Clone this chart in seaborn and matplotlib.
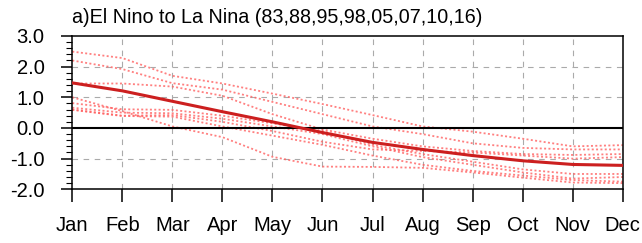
import matplotlib
matplotlib.use("Agg")
import matplotlib.pyplot as plt
from matplotlib.ticker import MultipleLocator
import seaborn as sns
import pandas as pd

# month labels and per-event SST anomaly traces
months = ['Jan', 'Feb', 'Mar', 'Apr', 'May', 'Jun', 'Jul', 'Aug', 'Sep', 'Oct', 'Nov', 'Dec']
events = ['83', '88', '95', '98', '05', '07', '10', '16']

ev_a = [2.49, 2.28, 1.70, 1.45, 1.12, 0.78, 0.42, 0.05, -0.12, -0.35, -0.60, -0.56]
ev_b = [2.20, 1.92, 1.46, 1.25, 0.85, 0.45, 0.05, -0.20, -0.50, -0.65, -0.70, -0.70]
ev_c = [1.45, 1.45, 1.35, 1.05, 0.45, -0.05, -0.35, -0.60, -0.75, -0.85, -0.88, -0.85]
ev_d = [1.00, 0.55, 0.05, -0.30, -0.94, -1.26, -1.27, -1.30, -1.45, -1.62, -1.78, -1.80]
ev_e = [0.81, 0.61, 0.59, 0.40, 0.15, -0.10, -0.55, -0.85, -1.10, -1.35, -1.50, -1.50]
ev_f = [0.66, 0.50, 0.48, 0.30, 0.05, -0.20, -0.60, -0.95, -1.20, -1.45, -1.65, -1.60]
ev_g = [0.60, 0.40, 0.42, 0.20, -0.10, -0.45, -0.70, -0.75, -0.80, -0.90, -1.00, -0.95]
ev_h = [0.59, 0.39, 0.37, 0.05, -0.25, -0.55, -0.90, -1.20, -1.40, -1.55, -1.70, -1.75]

composite = [1.47, 1.21, 0.87, 0.53, 0.20, -0.15, -0.47, -0.70, -0.90, -1.07, -1.19, -1.22]

title = 'a)El Nino to La Nina (83,88,95,98,05,07,10,16)'

traces = [ev_a, ev_b, ev_c, ev_d, ev_e, ev_f, ev_g, ev_h]
rows = []
for name, vals in zip(events, traces):
    for i, v in enumerate(vals):
        rows.append({'event': name, 'month': i, 'anom': v})
df = pd.DataFrame(rows)
df_mean = pd.DataFrame({'month': range(len(months)), 'anom': composite})

sns.set_theme(style='white')
plt.rcParams['font.family'] = ['Liberation Sans', 'DejaVu Sans']

fig = plt.figure(figsize=(6.42, 2.43), dpi=100)
ax = fig.add_axes([0.1126, 0.221, 0.8574, 0.631])

# grid
for i in range(1, 11):
    ax.axvline(i, color='#aaaaaa', lw=0.8, dashes=(5, 5), zorder=0)
for y in [-1, 1, 2]:
    ax.axhline(y, color='#aaaaaa', lw=0.8, dashes=(5, 5), zorder=0)

# individual events
for name in events:
    sub = df[df['event'] == name]
    sns.lineplot(data=sub, x='month', y='anom', ax=ax, color='#ff6060',
                 lw=1.3, alpha=0.8, dashes=False, estimator=None, zorder=2)
for line in ax.get_lines()[-len(events):]:
    line.set_dashes((1.1, 1.3))

# zero line
ax.axhline(0, color='black', lw=1.5, zorder=3)

# composite
sns.lineplot(data=df_mean, x='month', y='anom', ax=ax, color='#cc1f1f',
             lw=2.2, estimator=None, zorder=4)

ax.set_xlim(0, 11)
ax.set_ylim(-2, 3)
ax.set_xticks(range(12))
ax.set_xticklabels(months)
ax.set_yticks([-2, -1, 0, 1, 2, 3])
ax.set_yticklabels(['-2.0', '-1.0', '0.0', '1.0', '2.0', '3.0'])
ax.yaxis.set_minor_locator(MultipleLocator(0.2))
ax.set_xlabel('')
ax.set_ylabel('')

for s in ax.spines.values():
    s.set_color('black')
    s.set_linewidth(1.1)

ax.tick_params(axis='x', which='major', direction='out', length=9, width=1.1,
               pad=10, labelsize=14.5, colors='black', bottom=True, top=False)
ax.tick_params(axis='y', which='major', direction='out', length=8, width=1.1,
               pad=12, labelsize=14.5, colors='black', left=True, right=False)
ax.tick_params(axis='y', which='minor', direction='out', length=4, width=0.8,
               left=True, right=False, colors='black')
ax.tick_params(axis='x', which='minor', bottom=False)

ax.set_title(title, loc='left', fontsize=14.2, pad=9, color='black')

fig.savefig('out.png', dpi=100)
